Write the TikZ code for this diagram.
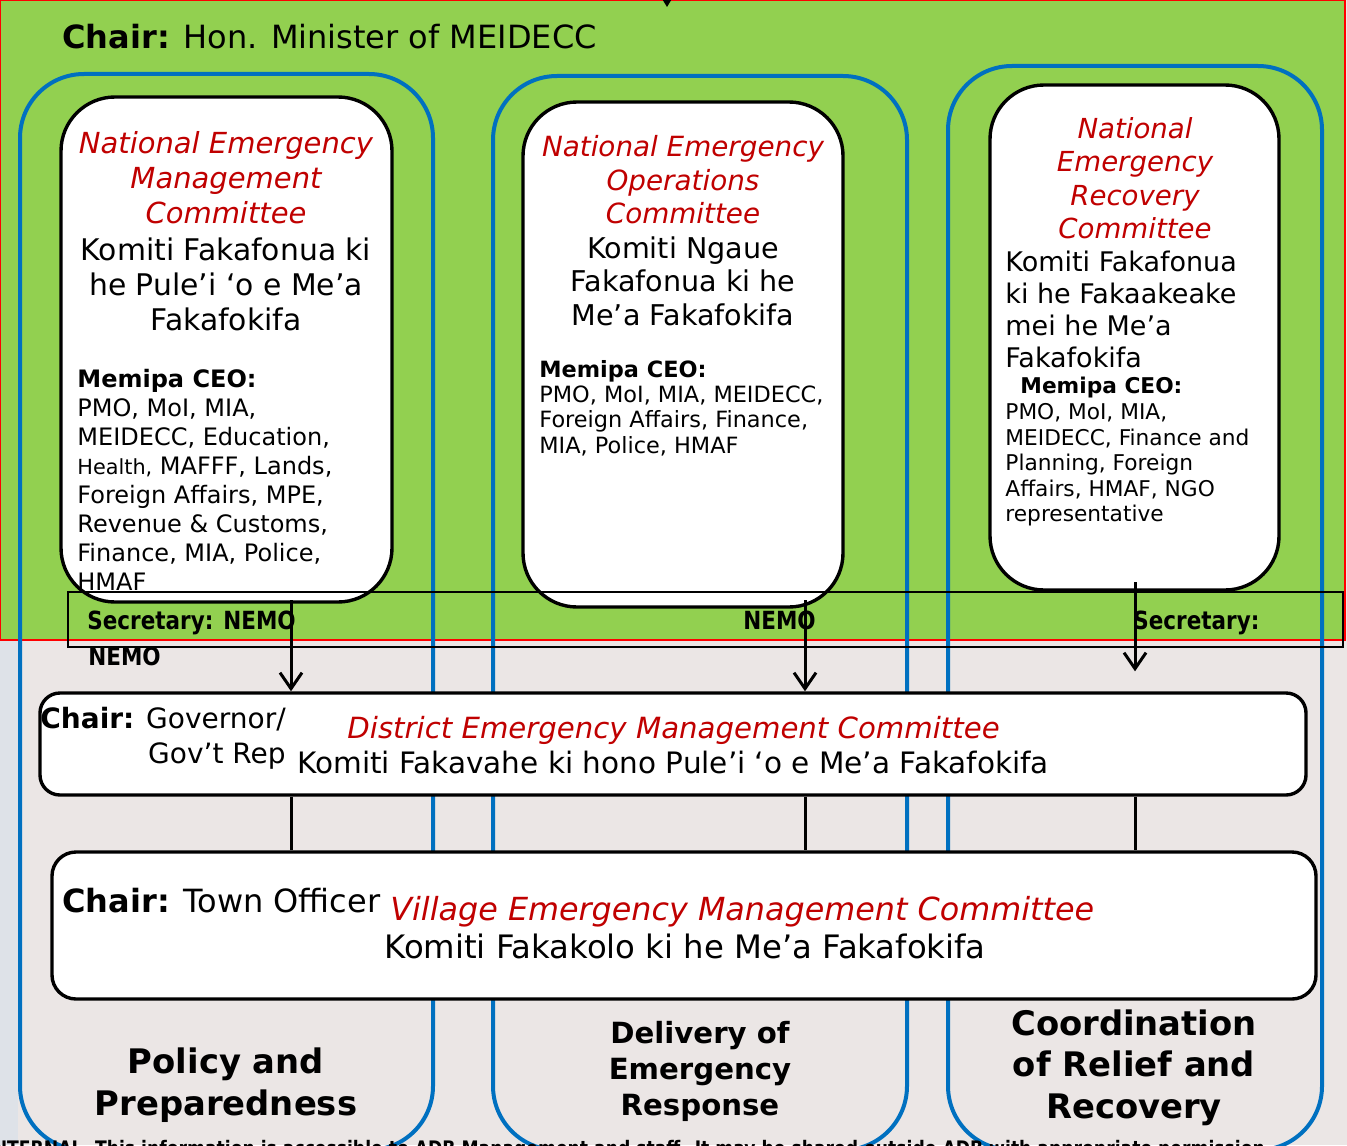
\documentclass[tikz,border=0pt]{standalone}
\usepackage{fontspec}
\setmainfont{DejaVu Sans}
\newfontfamily\narrowfont{DejaVu Sans}[FakeStretch=0.86]
\usetikzlibrary{arrows.meta}
\definecolor{boardgreen}{HTML}{92D050}
\definecolor{colblue}{HTML}{0070C0}
\definecolor{titlered}{HTML}{C00000}
\definecolor{photogrey}{HTML}{EBE6E5}
\definecolor{edgegrey}{HTML}{DEE2E8}
\newcommand{\fsz}[2]{\fontsize{#1}{#2}\selectfont}
\tikzstyle{board}=[draw=red,fill=boardgreen,line width=1pt,inner sep=0pt]
\tikzstyle{column}=[draw=colblue,line width=2pt,rounded corners=32pt,inner sep=0pt]
\tikzstyle{cn}=[draw,fill=white,line width=1.7pt,rounded corners=27pt,inner sep=0pt]
\tikzstyle{level}=[draw,fill=white,line width=1.7pt,inner sep=0pt]
\tikzstyle{secbar}=[draw,line width=1.2pt,inner sep=0pt]
\tikzstyle{lbl}=[inner sep=0pt]
\tikzstyle{redlbl}=[inner sep=0pt,text=titlered]
\tikzstyle{to}=[-{Straight Barb[length=8pt,width=11pt]},line width=1.5pt]
\tikzstyle{common}=[line width=1.5pt]

\begin{document}
\begin{tikzpicture}[x=0.5pt,y=-0.5pt]
            \useasboundingbox (0,0) rectangle (1347,1145);
            \fill[photogrey] (0,0) rectangle (1347,1145);
            \fill[edgegrey] (0,640) rectangle (18,1145);
            \node[board, minimum width=672.5pt, minimum height=320pt] (top) at (672.5,320) {};
            \coordinate (above) at (667,-40);
            \coordinate (topin) at (667,7);
            \draw[-{Stealth[length=5pt,width=6pt]}, line width=1pt] (above) -- (topin);
            \node[lbl, anchor=base west, font=\fsz{16}{20}] (chair) at (62,49)
                {\textbf{Chair:} Hon. Minister of MEIDECC};
            % three columns
            \node[column, minimum width=206.5pt, minimum height=538pt] (colA) at (226.5,612) {};
            \node[column, minimum width=207pt, minimum height=537pt] (colB) at (700,613) {};
            \node[column, minimum width=187pt, minimum height=542pt] (colC) at (1135,608) {};
            \node[cn, minimum width=165.5pt, minimum height=252.5pt] (nemc) at (226.5,349.5) {};
            \node[cn, minimum width=160pt, minimum height=252.5pt] (neoc) at (683,354.5) {};
            \node[cn, minimum width=144.5pt, minimum height=252.5pt] (nerc) at (1134.5,337.5) {};
            \node[redlbl, anchor=north, align=center, font=\fsz{14.5}{17.5}\itshape] (nemctitle) at (226,131)
                {National Emergency\\Management\\Committee};
            \node[lbl, anchor=north, align=center, font=\fsz{14.9}{17.5}] (nemcname) at (226,237)
                {Komiti Fakafonua ki\\he Pule’i ‘o e Me’a\\Fakafokifa};
            \node[lbl, anchor=north west, align=left, font=\fsz{12}{14.5}] (nemcceo) at (77,369)
                {\textbf{Memipa CEO:}\\PMO, MoI, MIA,\\MEIDECC, Education,\\{\fsz{10.4}{14.5}Health,} MAFFF, Lands,\\Foreign Affairs, MPE,\\Revenue \& Customs,\\Finance, MIA, Police,\\HMAF};
            \node[redlbl, anchor=north, align=center, font=\fsz{13.9}{16.8}\itshape] (neoctitle) at (683,135)
                {National Emergency\\Operations\\Committee};
            \node[lbl, anchor=north, align=center, font=\fsz{14.3}{16.8}] (neocname) at (683,236)
                {Komiti Ngaue\\Fakafonua ki he\\Me’a Fakafokifa};
            \node[lbl, anchor=north west, align=left, font=\fsz{11.2}{12.6}] (neocceo) at (539,360)
                {\textbf{Memipa CEO:}\\PMO, MoI, MIA, MEIDECC,\\Foreign Affairs, Finance,\\MIA, Police, HMAF};
            \node[redlbl, anchor=north, align=center, font=\fsz{13.8}{16.7}\itshape] (nerctitle) at (1135,117)
                {National\\Emergency\\Recovery\\Committee};
            \node[lbl, anchor=north west, align=left, font=\fsz{13.5}{16}] (nercname) at (1005,251)
                {Komiti Fakafonua\\ki he Fakaakeake\\mei he Me’a\\Fakafokifa};
            \node[lbl, anchor=north west, align=left, font=\fsz{10.85}{12.8}] (nercceo) at (1005,377)
                {\hspace*{7.5pt}\textbf{Memipa CEO:}\\PMO, MoI, MIA,\\MEIDECC, Finance and\\Planning, Foreign\\Affairs, HMAF, NGO\\representative};
            % secretary bar
            \node[secbar, minimum width=637.5pt, minimum height=27.5pt] (sec) at (705.5,619.5) {};
            \node[lbl, anchor=base west, font=\narrowfont\bfseries\fsz{12.5}{15}] (secA) at (87,629) {Secretary: NEMO};
            \node[lbl, anchor=base west, font=\narrowfont\bfseries\fsz{12.5}{15}] (secAb) at (88,665) {NEMO};
            \node[lbl, anchor=base west, font=\narrowfont\bfseries\fsz{12.5}{15}] (secB) at (743,629) {NEMO};
            \node[lbl, anchor=base west, font=\narrowfont\bfseries\fsz{12.5}{15}] (secC) at (1133,629) {Secretary:};
            % district and village
            \node[level, rounded corners=10pt, minimum width=633pt, minimum height=51pt] (dmc) at (673,744) {};
            \node[level, rounded corners=12pt, minimum width=632pt, minimum height=73.5pt] (vmc) at (684,925.5) {};
            \coordinate (dropA) at (291,600);
            \coordinate (dropB) at (805,600);
            \coordinate (dropC) at (1135,582);
            \draw[to] (dropA) -- (dropA |- dmc.north);
            \draw[to] (dropB) -- (dropB |- dmc.north);
            \draw[to] (dropC) -- ([yshift=10pt]dropC |- dmc.north);
            \path (dmc.south -| dropA) edge[common] (vmc.north -| dropA);
            \path (dmc.south -| dropB) edge[common] (vmc.north -| dropB);
            \path (dmc.south -| dropC) edge[common] (vmc.north -| dropC);
            \node[lbl, anchor=base west, font=\fsz{14}{17}] (dchair) at (40,728) {\textbf{Chair:} Governor/};
            \node[lbl, anchor=base east, font=\fsz{14}{17}] (dchairb) at (286,763) {Gov’t Rep};
            \node[redlbl, anchor=base west, font=\fsz{14.6}{17}\itshape] (dtitle) at (347,738)
                {District Emergency Management Committee};
            \node[lbl, anchor=base west, font=\fsz{14.75}{17}] (dname) at (297,773)
                {Komiti Fakavahe ki hono Pule’i ‘o e Me’a Fakafokifa};
            \node[lbl, anchor=base west, font=\fsz{16}{20}] (vchair) at (62,912) {\textbf{Chair:} Town Officer};
            \node[redlbl, anchor=base west, font=\fsz{15.9}{20}\itshape] (vtitle) at (390,920)
                {Village Emergency Management Committee};
            \node[lbl, anchor=base west, font=\fsz{16.15}{20}] (vname) at (384,958)
                {Komiti Fakakolo ki he Me’a Fakafokifa};
            % column captions
            \node[lbl, anchor=north, align=center, font=\bfseries\fsz{16.9}{21}] (policy) at (226,1047)
                {Policy and\\Preparedness};
            \node[lbl, anchor=north, align=center, font=\bfseries\fsz{14.6}{18}] (delivery) at (700,1021)
                {Delivery of\\Emergency\\Response};
            \node[lbl, anchor=north, align=center, font=\bfseries\fsz{16.9}{20.75}] (coord) at (1134,1009)
                {Coordination\\of Relief and\\Recovery};
            \node[lbl, anchor=base west, font=\narrowfont\bfseries\fsz{10}{11}] (footer) at (-14,1155)
                {INTERNAL. This information is accessible to ADB Management and staff. It may be shared outside ADB with appropriate permission.};
        \end{tikzpicture}
\end{document}
